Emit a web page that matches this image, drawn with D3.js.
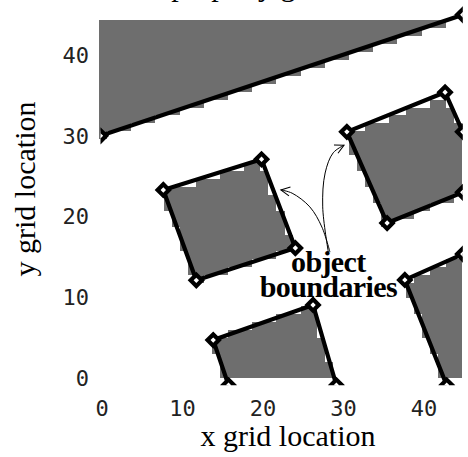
<!DOCTYPE html>
<html><head><meta charset="utf-8">
<script src="https://cdn.jsdelivr.net/npm/d3@7"></script>
<style>html,body{margin:0;padding:0;background:#fff;} svg{display:block;}</style>
</head><body>
<svg id="chart" width="468" height="457"></svg>
<script>
// ---------------- data ----------------
const xTicks = [0, 10, 20, 30, 40];
const yTicks = [0, 10, 20, 30, 40];
const gridCells = 45;                       // raster is 45 x 45 cells
const titleText = "property grid";
const xTitle = "x grid location";
const yTitle = "y grid location";
// object boundaries (grid units), drawn as polylines with vertex markers
const topBoundary = [[0, 30], [45, 45]];
const objectA = [[7.8, 23.3], [20.0, 27.1], [24.2, 16.1], [11.9, 12.1]];
const objectB = [[45, 30.5], [42.8, 35.4], [30.6, 30.5], [35.6, 19.2], [45, 23.0]];
const objectC = [[15.9, -0.9], [14.0, 4.7], [26.4, 9.05], [29.3, -0.9]];
const objectD = [[45, 15.35], [37.8, 12.15], [43.0, -0.9]];
const objectClosed = [false, true, false, false, false];
// frame corners that close the clipped objects' regions
const frameCorners = [[[46, 46], [-1, 46]], [], [], [], [[46, -1]]];
const labelLines = ["object", "boundaries"];
const labelAnchor = [28.3, 13.1];
const arrowToA = [[28.5, 15.6], [27.5, 18.7], [26.0, 21.2], [23.8, 22.9], [22.4, 23.3]];
const arrowToB = [[28.3, 15.6], [27.6, 21.2], [27.9, 25.4], [28.9, 27.9], [30.25, 28.85]];

// ---------------- drawing ----------------
const objects = [topBoundary, objectA, objectB, objectC, objectD];
const svg = d3.select("#chart");

// axis scales (vector overlay)
const x = d3.scaleLinear().domain([0, 45]).range([100.5, 462.8]);
const y = d3.scaleLinear().domain([0, 45]).range([378, 14.8]);
// image extent scales (raster)
const gx = d3.scaleLinear().domain([0, gridCells]).range([99, 462]);
const gy = d3.scaleLinear().domain([0, gridCells]).range([378, 20]);

// raster: a cell is filled when its centre lies inside an object region
const regions = objects.map((pts, i) => pts.concat(frameCorners[i]));
const cells = [];
for (let r = 0; r < gridCells; r++) {
  let start = null;
  for (let c = 0; c <= gridCells; c++) {
    const inside = c < gridCells && regions.some(p => d3.polygonContains(p, [c + 0.5, r + 0.5]));
    if (inside && start === null) start = c;
    if (!inside && start !== null) { cells.push({r, c0: start, c1: c}); start = null; }
  }
}
svg.append("g").attr("shape-rendering", "crispEdges")
  .selectAll("rect").data(cells).join("rect")
  .attr("x", d => gx(d.c0)).attr("width", d => gx(d.c1) - gx(d.c0))
  .attr("y", d => gy(d.r + 1)).attr("height", d => gy(d.r) - gy(d.r + 1))
  .attr("fill", "#6e6e6e");

// clip for boundary overlay
svg.append("clipPath").attr("id", "plotclip").append("rect")
  .attr("x", x(0)).attr("y", 0)
  .attr("width", x(45) - x(0)).attr("height", y(-0.9));

const overlay = svg.append("g").attr("clip-path", "url(#plotclip)");
const line = d3.line().x(d => x(d[0])).y(d => y(d[1]));
overlay.selectAll("path.bnd").data(objects).join("path")
  .attr("class", "bnd")
  .attr("d", (d, i) => line(d) + (objectClosed[i] ? "Z" : ""))
  .attr("fill", "none").attr("stroke", "#000").attr("stroke-width", 4.2)
  .attr("stroke-linejoin", "round");

const verts = objects.flat();
overlay.selectAll("path.mk").data(verts).join("path")
  .attr("class", "mk")
  .attr("d", d3.symbol(d3.symbolSquare, 64)())
  .attr("transform", d => `translate(${x(d[0])},${y(d[1])}) rotate(45)`)
  .attr("fill", "#fff").attr("stroke", "#000").attr("stroke-width", 4.2);

// tick labels
svg.append("g").selectAll("text").data(xTicks).join("text")
  .attr("x", d => x(d) + 1.5).attr("y", 416)
  .attr("text-anchor", "middle")
  .attr("font-family", "DejaVu Sans Mono, monospace").attr("font-size", 22)
  .attr("fill", "#222").text(d => d);
svg.append("g").selectAll("text").data(yTicks).join("text")
  .attr("x", 89).attr("y", d => y(d))
  .attr("dy", "0.36em")
  .attr("text-anchor", "end")
  .attr("font-family", "DejaVu Sans Mono, monospace").attr("font-size", 22)
  .attr("fill", "#222").text(d => d);

// titles
const serif = "Liberation Serif, Times New Roman, serif";
svg.append("text").attr("x", 250).attr("y", -4).attr("text-anchor", "middle")
  .attr("font-family", serif).attr("font-size", 30).text(titleText);
svg.append("text").attr("x", 288).attr("y", 446).attr("text-anchor", "middle")
  .attr("font-family", serif).attr("font-size", 30).text(xTitle);
svg.append("text").attr("transform", "translate(35,189) rotate(-90)")
  .attr("text-anchor", "middle")
  .attr("font-family", serif).attr("font-size", 30).text(yTitle);

// annotation
const defs = svg.append("defs");
defs.append("marker").attr("id", "arr").attr("viewBox", "-10 -6 12 12")
  .attr("refX", 0).attr("refY", 0).attr("markerWidth", 12).attr("markerHeight", 12)
  .attr("markerUnits", "userSpaceOnUse").attr("orient", "auto")
  .append("path").attr("d", "M-9,-4.5L0,0L-9,4.5").attr("fill", "none")
  .attr("stroke", "#000").attr("stroke-width", 1);
const curve = d3.line().x(d => x(d[0])).y(d => y(d[1])).curve(d3.curveCatmullRom);
svg.append("g").selectAll("path").data([arrowToA, arrowToB]).join("path")
  .attr("d", curve).attr("fill", "none").attr("stroke", "#000")
  .attr("stroke-width", 1).attr("marker-end", "url(#arr)");
svg.append("g").selectAll("text").data(labelLines).join("text")
  .attr("x", x(labelAnchor[0])).attr("y", (d, i) => y(labelAnchor[1]) + i * 25)
  .attr("text-anchor", "middle")
  .attr("font-family", serif).attr("font-weight", "bold").attr("font-size", 30)
  .attr("letter-spacing", -0.6)
  .text(d => d);
</script>
</body></html>
